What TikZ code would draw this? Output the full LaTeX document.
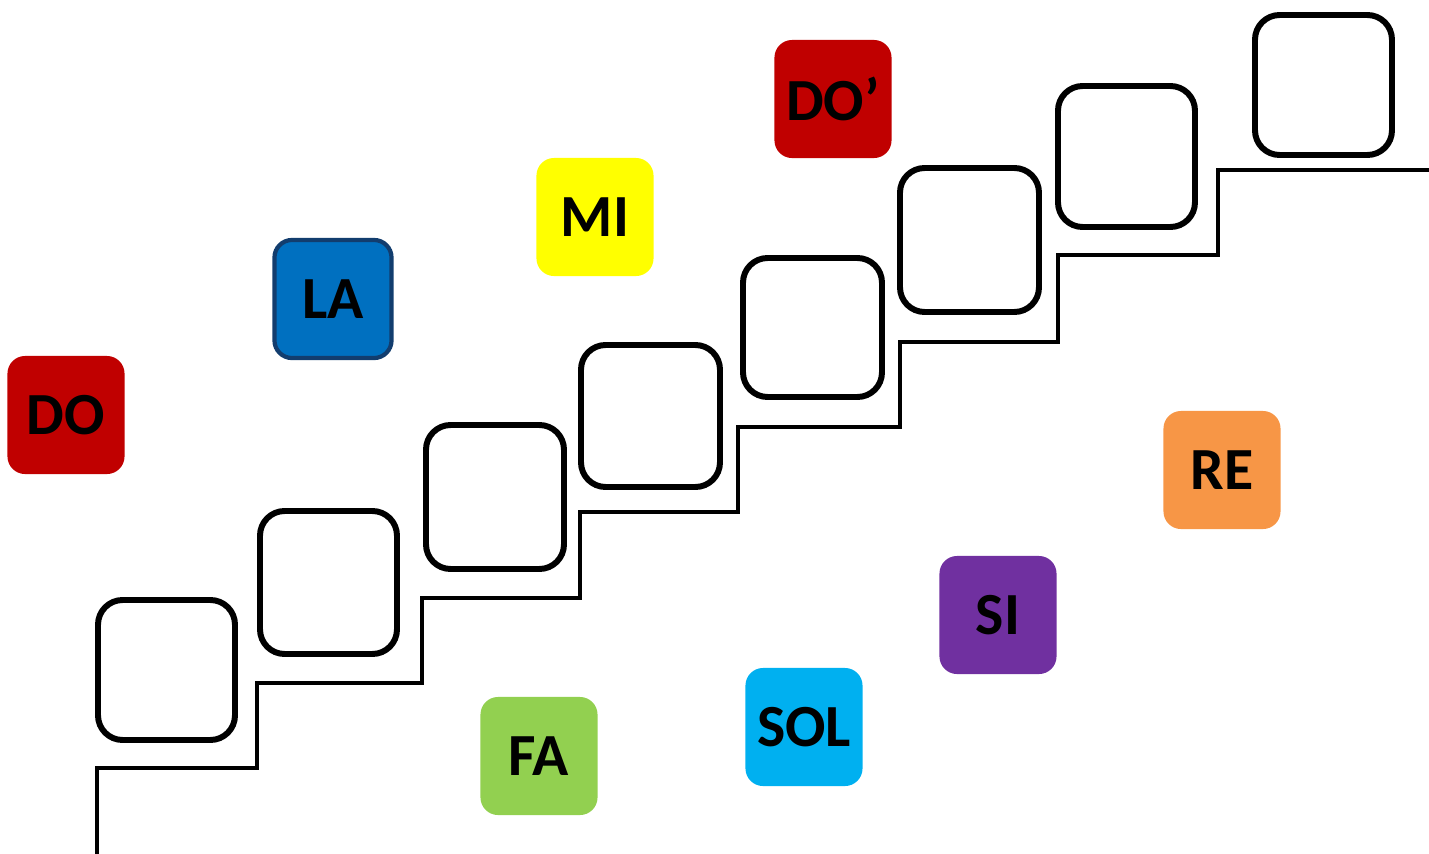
\documentclass[tikz,border=0pt]{standalone}
\usepackage{fontspec}
\setmainfont{Carlito}
\usepackage{xcolor}
\usepackage{tikz}
\definecolor{noteRed}{HTML}{C00000}
\definecolor{noteBlue}{HTML}{0070C0}
\definecolor{noteNavy}{HTML}{123D6E}
\definecolor{noteYellow}{HTML}{FFFF00}
\definecolor{noteOrange}{HTML}{F79646}
\definecolor{notePurple}{HTML}{7030A0}
\definecolor{noteCyan}{HTML}{00B0F0}
\definecolor{noteGreen}{HTML}{92D050}
\tikzset{
  note/.style={rounded corners=5pt, minimum width=1.17cm, minimum height=1.18cm,
    inner sep=0pt, text=black, font=\fontsize{17}{19}\selectfont\bfseries},
  stairbox/.style={line width=1.7pt, rounded corners=7pt},
  stairline/.style={line width=0.9pt},
}

\begin{document}
\begin{tikzpicture}[x=0.01cm,y=-0.01cm]
  \useasboundingbox (0,0) rectangle (1429,854);
  % the stairs
  \draw[stairline] (97,854) -- (97,768) -- (257,768) -- (257,683) -- (422,683)
    -- (422,598) -- (580,598) -- (580,512) -- (738,512) -- (738,427) -- (900,427)
    -- (900,342) -- (1058,342) -- (1058,255) -- (1218,255) -- (1218,170) -- (1429,170);
  % empty places on the steps
  \foreach \l/\t/\r/\b in {98/600/235/740, 260/511/397/654, 426/425/564/569,
      581/345/720/487, 743/258/882/397, 900/168/1039/312, 1058/86/1195/227,
      1255/15/1392/155}
    \draw[stairbox] (\l,\t) rectangle (\r,\b);
  % the notes
  \node[note, fill=noteRed] (do) at (66,415) {DO};
  \node[note, fill=noteBlue, draw=noteNavy, line width=1.2pt] (la) at (333,299) {LA};
  \node[note, fill=noteYellow] (mi) at (595,217) {MI};
  \node[note, fill=noteRed] (doo) at (833,99) {DO’};
  \node[note, fill=noteOrange] (re) at (1222,470) {RE};
  \node[note, fill=notePurple] (si) at (998,615) {SI};
  \node[note, fill=noteCyan] (sol) at (804,727) {SOL};
  \node[note, fill=noteGreen] (fa) at (539,756) {FA};
\end{tikzpicture}
\end{document}
